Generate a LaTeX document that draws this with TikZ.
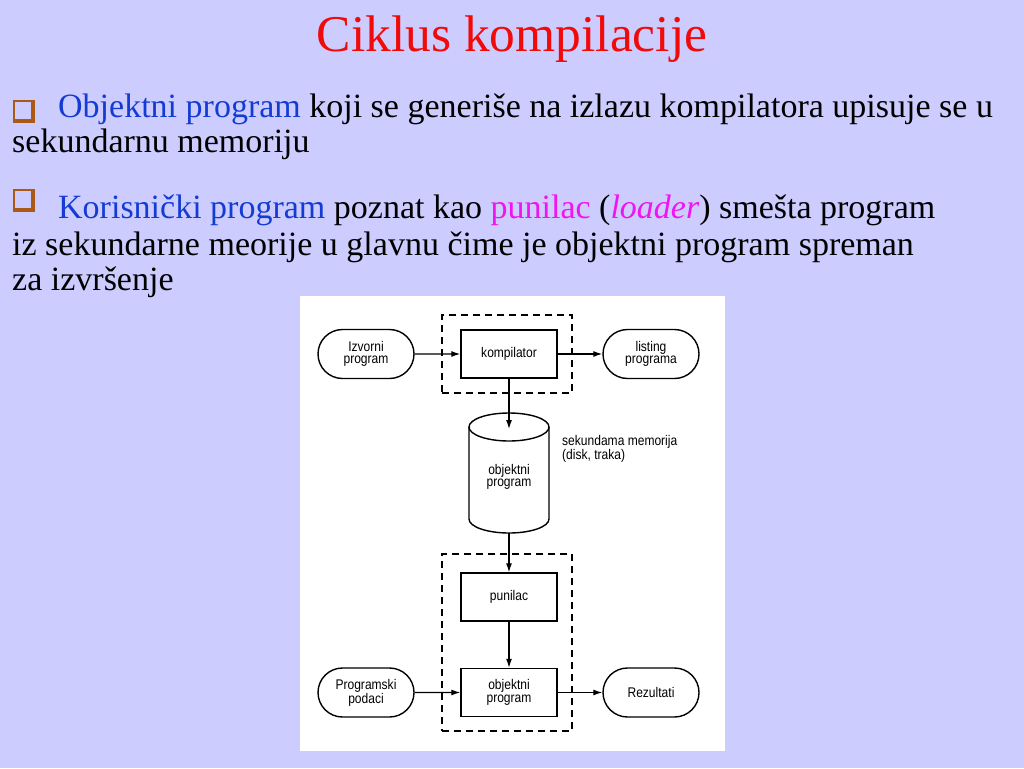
\documentclass[tikz,border=0pt]{standalone}
\usepackage{fontspec}
\setmainfont{Liberation Serif}
\newfontfamily\diagfont[FakeStretch=0.86]{Liberation Sans}
\usetikzlibrary{arrows.meta,shapes.misc}
\definecolor{bg}{RGB}{204,204,255}
\definecolor{titlered}{RGB}{240,10,10}
\definecolor{kwblue}{RGB}{20,60,210}
\definecolor{kwmag}{RGB}{240,20,240}
\definecolor{bulbrown}{RGB}{170,90,20}
\begin{document}
\begin{tikzpicture}[x=1pt,y=-1pt,
  body/.style={anchor=base west, inner sep=0pt, font=\fontsize{34}{36}\selectfont},
  term/.style={rounded rectangle, draw, line width=1.4pt, minimum width=96pt, minimum height=49pt, inner sep=0pt, align=center, font=\diagfont\fontsize{14}{12.5}\selectfont},
  procbox/.style={rectangle, draw, line width=1.4pt, minimum width=96pt, minimum height=48pt, inner sep=0pt, align=center, font=\diagfont\fontsize{14}{12.5}\selectfont},
  dashbox/.style={rectangle, draw, line width=1.2pt, dash pattern=on 7pt off 5pt, minimum width=130pt, inner sep=0pt},
  arr/.style={line width=1.2pt, -{Latex[length=9pt,width=6pt]}}]
\useasboundingbox (0,0) rectangle (1024,768);
\fill[bg] (0,0) rectangle (1024,768);

% title
\node[anchor=base, inner sep=0pt, text=titlered, font=\fontsize{51.5}{54}\selectfont] (title) at (512,52) {Ciklus kompilacije};

% bullets
\fill[bulbrown] (13,100) rectangle (35,123);
\fill[bg] (14.5,101.5) rectangle (31,119);
\fill[bulbrown] (13,189) rectangle (35,212);
\fill[bg] (14.5,190.5) rectangle (31,208);

\node[body] (l1) at (58,117) {\textcolor{kwblue}{Objektni program} koji se generiše na izlazu kompilatora upisuje se u};
\node[body] (l2) at (12,152) {sekundarnu memoriju};
\node[body] (l3) at (58,218) {\textcolor{kwblue}{Korisnički program} poznat kao \textcolor{kwmag}{punilac} (\textcolor{kwmag}{\itshape loader}) smešta program};
\node[body] (l4) at (12,255) {iz sekundarne meorije u glavnu čime je objektni program spreman};
\node[body] (l5) at (12,290) {za izvršenje};

% diagram panel
\fill[white] (300,296) rectangle (725,751);

\node[dashbox, minimum height=78pt] (grp1) at (507,354) {};
\node[dashbox, minimum height=177pt] (grp2) at (507,642.5) {};

\node[term] (izv) at (366,354) {Izvorni\\program};
\node[procbox] (komp) at (509,354) {kompilator};
\node[term] (list) at (651,354) {listing\\programa};

% cylinder
\draw[line width=1.4pt, fill=white] (469,427) -- (469,519) arc[start angle=180, end angle=360, x radius=40, y radius=-14] -- (549,427);
\draw[line width=1.4pt] (509,427) ellipse [x radius=40, y radius=14];
\node[inner sep=0pt, minimum width=80pt, minimum height=112pt, align=center, font=\diagfont\fontsize{14}{12.5}\selectfont] (disk) at (509,477) {objektni\\program};
\coordinate (disktop) at (509,429);
\node[anchor=west, inner sep=0pt, align=left, font=\diagfont\fontsize{14}{12.5}\selectfont] (memlab) at (562,449) {sekundama memorija\\(disk, traka)};

\node[procbox] (pun) at (509,597) {punilac};
\node[procbox] (obj) at (509,692.5) {objektni\\program};
\node[term] (prog) at (366,692.5) {Programski\\podaci};
\node[term] (rez) at (651,692.5) {Rezultati};

\draw[arr] (izv) -- (komp);
\draw[arr] (komp) -- (list);
\draw[arr] (komp) -- (disktop);
\draw[arr] (disk.south) -- (pun);
\draw[arr] (pun) -- (obj);
\draw[arr] (prog) -- (obj);
\draw[arr] (obj) -- (rez);
\end{tikzpicture}
\end{document}
